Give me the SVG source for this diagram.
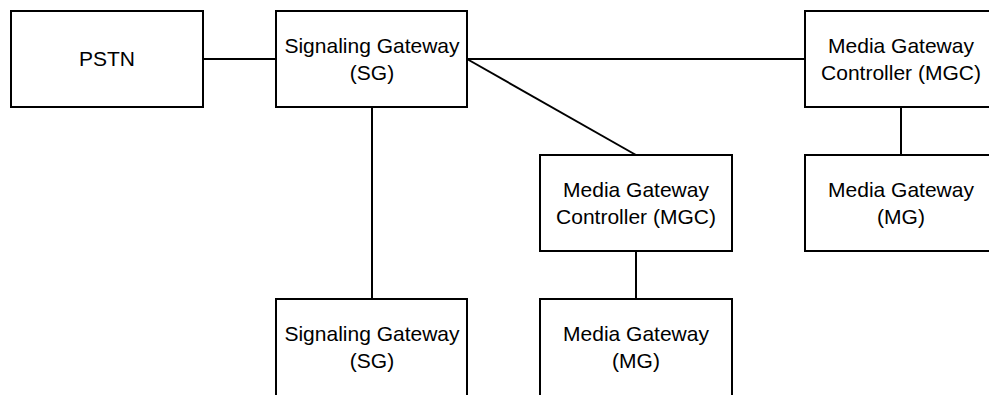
<svg xmlns="http://www.w3.org/2000/svg" width="989" height="395" viewBox="0 0 989 395">
<style>
.box{fill:#fff;stroke:#000;stroke-width:2}
.lbl{font-family:"Liberation Sans",Arial,sans-serif;font-size:21px;fill:#000;text-anchor:middle}
.edge{stroke:#000;stroke-width:2;fill:none}
</style>
<rect width="989" height="395" fill="#fff"/>
<g id="connectors">
<line class="edge" x1="203" y1="59" x2="276" y2="59"/>
<line class="edge" x1="467" y1="59" x2="805" y2="59"/>
<line class="edge" x1="467" y1="59" x2="636" y2="155"/>
<line class="edge" x1="372" y1="107" x2="372" y2="299"/>
<line class="edge" x1="636" y1="251" x2="636" y2="299"/>
<line class="edge" x1="901" y1="107" x2="901" y2="155"/>
</g>
<g id="pstn">
<rect class="box" x="11" y="11" width="192" height="96"/>
<text class="lbl" x="107" y="66">PSTN</text>
</g>
<g id="sg1">
<rect class="box" x="276" y="11" width="191" height="96"/>
<text class="lbl" x="372" y="53">Signaling Gateway</text>
<text class="lbl" x="372" y="80">(SG)</text>
</g>
<g id="mgc1">
<rect class="box" x="805" y="11" width="192" height="96"/>
<text class="lbl" x="901" y="53">Media Gateway</text>
<text class="lbl" x="901" y="80">Controller (MGC)</text>
</g>
<g id="mg1">
<rect class="box" x="805" y="155" width="192" height="96"/>
<text class="lbl" x="901" y="197">Media Gateway</text>
<text class="lbl" x="901" y="224">(MG)</text>
</g>
<g id="mgc2">
<rect class="box" x="540" y="155" width="192" height="96"/>
<text class="lbl" x="636" y="197">Media Gateway</text>
<text class="lbl" x="636" y="224">Controller (MGC)</text>
</g>
<g id="sg2">
<rect class="box" x="276" y="299" width="191" height="110"/>
<text class="lbl" x="372" y="341">Signaling Gateway</text>
<text class="lbl" x="372" y="368">(SG)</text>
</g>
<g id="mg2">
<rect class="box" x="540" y="299" width="192" height="110"/>
<text class="lbl" x="636" y="341">Media Gateway</text>
<text class="lbl" x="636" y="368">(MG)</text>
</g>
</svg>
